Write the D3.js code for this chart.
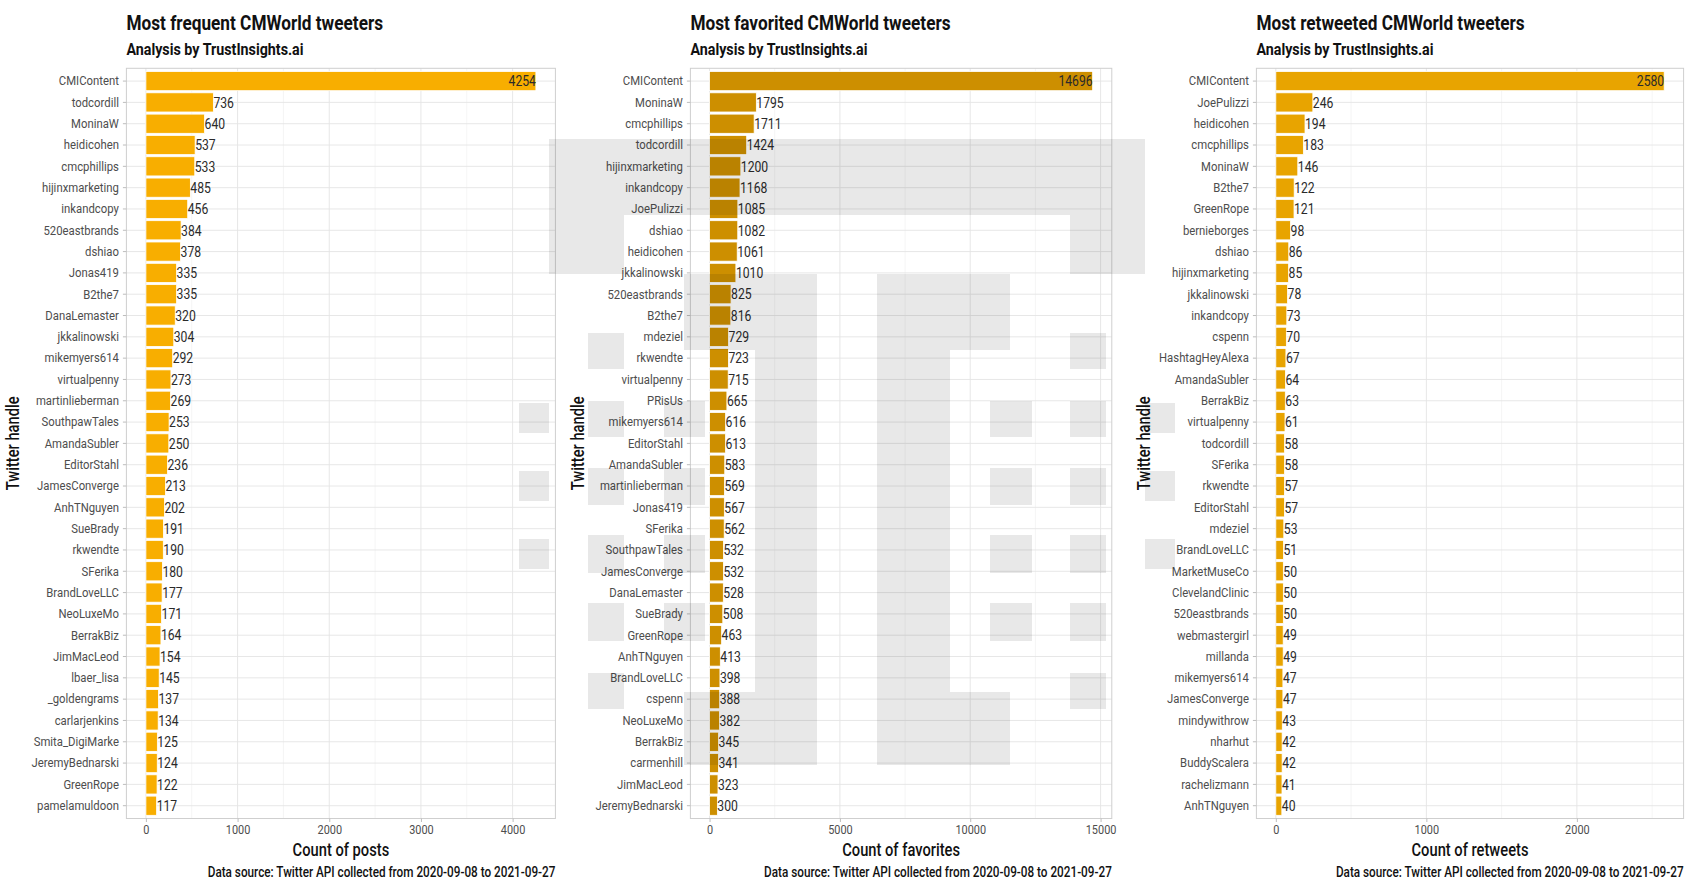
<!DOCTYPE html>
<html>
<head>
<meta charset="utf-8">
<script src="https://cdn.jsdelivr.net/npm/d3@7"></script>
<style>
  html, body { margin: 0; padding: 0; background: #fff; }
  svg { display: block; }
  text { font-family: Roboto, 'Liberation Sans', sans-serif; }
</style>
</head>
<body>
<svg id="chart" width="1694" height="883"></svg>
<script>
// ---------------- DATA ----------------
const postHandles = ["CMIContent","todcordill","MoninaW","heidicohen","cmcphillips","hijinxmarketing","inkandcopy","520eastbrands","dshiao","Jonas419","B2the7","DanaLemaster","jkkalinowski","mikemyers614","virtualpenny","martinlieberman","SouthpawTales","AmandaSubler","EditorStahl","JamesConverge","AnhTNguyen","SueBrady","rkwendte","SFerika","BrandLoveLLC","NeoLuxeMo","BerrakBiz","JimMacLeod","lbaer_lisa","_goldengrams","carlarjenkins","Smita_DigiMarke","JeremyBednarski","GreenRope","pamelamuldoon"];
const postCounts = [4254,736,640,537,533,485,456,384,378,335,335,320,304,292,273,269,253,250,236,213,202,191,190,180,177,171,164,154,145,137,134,125,124,122,117];
const postTicks = [0,1000,2000,3000,4000];

const favHandles = ["CMIContent","MoninaW","cmcphillips","todcordill","hijinxmarketing","inkandcopy","JoePulizzi","dshiao","heidicohen","jkkalinowski","520eastbrands","B2the7","mdeziel","rkwendte","virtualpenny","PRisUs","mikemyers614","EditorStahl","AmandaSubler","martinlieberman","Jonas419","SFerika","SouthpawTales","JamesConverge","DanaLemaster","SueBrady","GreenRope","AnhTNguyen","BrandLoveLLC","cspenn","NeoLuxeMo","BerrakBiz","carmenhill","JimMacLeod","JeremyBednarski"];
const favCounts = [14696,1795,1711,1424,1200,1168,1085,1082,1061,1010,825,816,729,723,715,665,616,613,583,569,567,562,532,532,528,508,463,413,398,388,382,345,341,323,300];
const favTicks = [0,5000,10000,15000];

const rtHandles = ["CMIContent","JoePulizzi","heidicohen","cmcphillips","MoninaW","B2the7","GreenRope","bernieborges","dshiao","hijinxmarketing","jkkalinowski","inkandcopy","cspenn","HashtagHeyAlexa","AmandaSubler","BerrakBiz","virtualpenny","todcordill","SFerika","rkwendte","EditorStahl","mdeziel","BrandLoveLLC","MarketMuseCo","ClevelandClinic","520eastbrands","webmastergirl","millanda","mikemyers614","JamesConverge","mindywithrow","nharhut","BuddyScalera","rachelizmann","AnhTNguyen"];
const rtCounts = [2580,246,194,183,146,122,121,98,86,85,78,73,70,67,64,63,61,58,58,57,57,53,51,50,50,50,49,49,47,47,43,42,42,41,40];
const rtTicks = [0,1000,2000];

const titles = ["Most frequent CMWorld tweeters","Most favorited CMWorld tweeters","Most retweeted CMWorld tweeters"];
const subtitle = "Analysis by TrustInsights.ai";
const xTitles = ["Count of posts","Count of favorites","Count of retweets"];
const yTitle = "Twitter handle";
const caption = "Data source: Twitter API collected from 2020-09-08 to 2021-09-27";

// ---------------- LAYOUT / STYLE ----------------
const SX = 0.84; // horizontal condensing of the text to mimic a semi-condensed face
const panels = [
  {handles: postHandles, values: postCounts, ticks: postTicks, color: "#F8AE00", left: 126.4, right: 555.4, yTitleX: 12.5},
  {handles: favHandles, values: favCounts, ticks: favTicks, color: "#CD8F00", left: 690.4, right: 1111.8, yTitleX: 578},
  {handles: rtHandles, values: rtCounts, ticks: rtTicks, color: "#E8A400", left: 1256.4, right: 1683.6, yTitleX: 1144}
];
const panelTop = 68.3, panelBottom = 818.5;

// watermark logo blocks (decoration), page coordinates [x0,y0,x1,y1]
const logoBlocks = [
  [549,139,1145,215],[549,215,624,274],[1070,215,1145,274],
  [684,274,817,350],[755,350,817,692],[684,692,817,765],
  [877,274,1010,350],[877,350,950,692],[877,692,1010,765],
  [519,403,549,433],[519,471,549,501],[519,539,549,569],
  [1145,403,1175,433],[1145,471,1175,501],[1145,539,1175,569],
  [588,333,624,369],[588,401,624,437],[588,468,624,505],[588,535,624,573],[588,603,624,641],[588,673,624,709],
  [1070,333,1106,369],[1070,401,1106,437],[1070,468,1106,505],[1070,535,1106,573],[1070,603,1106,641],[1070,673,1106,709],
  [664,401,705,437],[664,468,705,505],[664,535,705,573],[664,603,705,641],
  [990,401,1032,437],[990,468,1032,505],[990,535,1032,573],[990,603,1032,641]
];

const svg = d3.select("#chart");

function stext(parent, x, y, txt, size, weight, anchor, color, rotate) {
  return parent.append("text")
    .attr("transform", `translate(${x},${y})${rotate ? " rotate(" + rotate + ")" : ""} scale(${SX},1)`)
    .attr("text-anchor", anchor || "start")
    .attr("font-size", size).attr("font-weight", weight || 400)
    .attr("fill", color || "#111")
    .text(txt);
}

panels.forEach((p, i) => {
  const g = svg.append("g");
  const maxV = d3.max(p.values);
  const x = d3.scaleLinear().domain([-0.05 * maxV, 1.05 * maxV]).range([p.left, p.right]);
  const y = d3.scaleBand().domain(p.handles).range([panelTop, panelBottom]).paddingInner(0.1).paddingOuter(0.15);
  const [d0, d1] = x.domain();
  const yc = d => y(d) + y.bandwidth() / 2;

  // minor gridlines
  const step = p.ticks[1] - p.ticks[0];
  const minor = [];
  for (let v = p.ticks[0] - step / 2; v <= d1; v += step) if (v >= d0) minor.push(v);
  g.selectAll(".minor").data(minor).join("line")
    .attr("x1", d => x(d)).attr("x2", d => x(d))
    .attr("y1", panelTop).attr("y2", panelBottom)
    .attr("stroke", "#F0F0F0").attr("stroke-width", 0.7);
  // major vertical gridlines
  g.selectAll(".majorx").data(p.ticks).join("line")
    .attr("x1", d => x(d)).attr("x2", d => x(d))
    .attr("y1", panelTop).attr("y2", panelBottom)
    .attr("stroke", "#E4E4E4").attr("stroke-width", 0.9);
  // horizontal gridlines
  g.selectAll(".majory").data(p.handles).join("line")
    .attr("x1", p.left).attr("x2", p.right)
    .attr("y1", yc).attr("y2", yc)
    .attr("stroke", "#E4E4E4").attr("stroke-width", 0.9);

  // bars
  g.selectAll(".bar").data(p.handles).join("rect")
    .attr("x", x(0))
    .attr("y", d => y(d))
    .attr("width", (d, k) => x(p.values[k]) - x(0))
    .attr("height", y.bandwidth())
    .attr("fill", p.color)
    .attr("stroke", "#ffffff").attr("stroke-width", 0.8);

  // value labels (hjust inward)
  const mid = (p.left + p.right) / 2;
  g.selectAll(".val").data(p.handles).join("text")
    .attr("transform", (d, k) => `translate(${x(p.values[k])},${yc(d)}) scale(${SX},1)`)
    .attr("dy", "0.36em")
    .attr("text-anchor", (d, k) => x(p.values[k]) > mid ? "end" : "start")
    .attr("font-size", 14.5).attr("fill", "#2a2a2a")
    .text((d, k) => p.values[k]);

  // panel border
  g.append("rect").attr("x", p.left).attr("y", panelTop)
    .attr("width", p.right - p.left).attr("height", panelBottom - panelTop)
    .attr("fill", "none").attr("stroke", "#CFCFCF").attr("stroke-width", 1);

  // y axis
  const ya = g.append("g").attr("transform", `translate(${p.left},0)`)
    .call(d3.axisLeft(y).tickSize(3.5).tickPadding(4));
  ya.select(".domain").remove();
  ya.selectAll(".tick line").attr("stroke", "#BDBDBD");
  ya.selectAll(".tick text").attr("font-size", 13.5).attr("fill", "#4D4D4D")
    .attr("font-family", null)
    .attr("x", -7.5 / SX).attr("transform", `scale(${SX},1)`);

  // x axis
  const xa = g.append("g").attr("transform", `translate(0,${panelBottom})`)
    .call(d3.axisBottom(x).tickValues(p.ticks).tickFormat(d3.format("d")).tickSize(3.5).tickPadding(3));
  xa.select(".domain").remove();
  xa.selectAll(".tick line").attr("stroke", "#BDBDBD");
  xa.selectAll(".tick text").attr("font-size", 13).attr("fill", "#4D4D4D")
    .attr("font-family", null).attr("transform", `scale(${SX},1)`);

  // titles
  stext(g, p.left, 30, titles[i], 20.5, 700, "start", "#111");
  stext(g, p.left, 55, subtitle, 17, 700, "start", "#111");

  // axis titles
  stext(g, mid, 856, xTitles[i], 17.5, 500, "middle", "#111");
  stext(g, p.yTitleX + 6, (panelTop + panelBottom) / 2, yTitle, 17.5, 500, "middle", "#111", -90);

  // caption
  stext(g, p.right, 877, caption, 14, 500, "end", "#111");
});

// watermark overlay
svg.append("g").selectAll("rect").data(logoBlocks).join("rect")
  .attr("x", d => d[0]).attr("y", d => d[1])
  .attr("width", d => d[2] - d[0]).attr("height", d => d[3] - d[1])
  .attr("fill", "#000").attr("fill-opacity", 0.09);
</script>
</body>
</html>
